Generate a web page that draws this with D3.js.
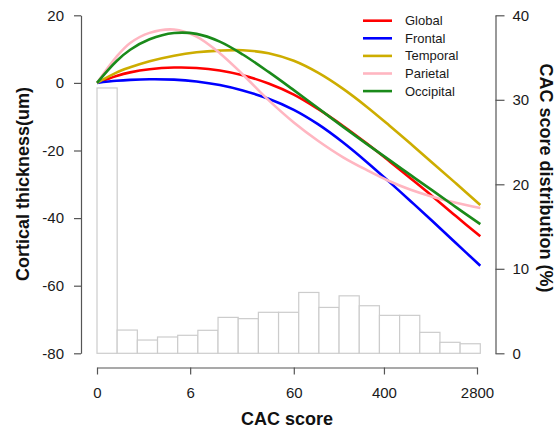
<!DOCTYPE html>
<html>
<head>
    <meta charset="utf-8">
    <title>Cortical thickness vs CAC score</title>
    <script src="https://d3js.org/d3.v7.min.js"></script>
    <style>
        body { margin: 0; background: #fff; }
        svg { display: block; font-family: "Liberation Sans", Arial, sans-serif; }
        .axis path, .axis line { stroke: #555; stroke-width: 1.2; }
        .axis text { font-size: 15px; fill: #1a1a1a; font-family: "Liberation Sans", Arial, sans-serif; }
        .title { font-size: 18px; font-weight: bold; fill: #111; }
        .legend text { font-size: 13px; fill: #1a1a1a; }
    </style>
</head>
<body>
<div id="chart"></div>
<script>
    // CAC score sample points (x) and fitted thickness change (um)
    const cacScore = [0, 0.5, 1, 2, 4, 7, 12, 20, 35, 60, 100, 170, 280, 450, 700, 1100, 1800, 3000];
    const globalVals    = [0, 2.04, 3.12, 4.05, 4.54, 4.43, 3.68, 2.26, -0.19, -3.47, -7.7, -12.74, -17.95, -23.22, -28.28, -33.5, -39.4, -45.4];
    const frontalVals   = [0, 0.62, 0.9, 1.09, 0.97, 0.41, -0.64, -2.25, -4.7, -7.98, -12.22, -17.64, -23.45, -29.35, -35.0, -40.88, -47.37, -54.1];
    const temporalVals  = [0, 3.05, 4.6, 6.4, 8.05, 9.05, 9.55, 9.65, 8.8, 6.53, 3.02, -1.77, -7.1, -12.66, -18.0, -23.6, -29.7, -36.1];
    const parietalVals  = [0, 7.7, 11.8, 14.8, 15.8, 13.7, 8.8, 2.5, -5.1, -11.7, -17.1, -22.0, -25.8, -29.09, -31.62, -33.67, -35.44, -37.03];
    const occipitalVals = [0, 6.4, 9.8, 12.9, 14.75, 14.5, 12.2, 8.4, 3.25, -2.15, -7.45, -13.0, -18.1, -22.85, -27.3, -31.8, -36.75, -41.8];

    const seriesNames = ['Global', 'Frontal', 'Temporal', 'Parietal', 'Occipital'];
    const seriesColors = ['#ff0000', '#0000ff', '#cdad00', '#ffb6c1', '#1a8a1a'];
    const seriesVals = [globalVals, frontalVals, temporalVals, parietalVals, occipitalVals];

    // CAC score distribution (%), equal bins on log(CAC+1)
    const histPct = [31.4, 2.75, 1.57, 1.93, 2.13, 2.72, 4.25, 4.1, 4.85, 4.85, 7.2, 5.43, 6.8, 5.63, 4.49, 4.49, 2.48, 1.3, 1.13];
    const cacMax = 3000;

    const xTicks = [0, 6, 60, 400, 2800];
    const yLeftTicks = [20, 0, -20, -40, -60, -80];
    const yRightTicks = [0, 10, 20, 30, 40];

    const width = 556;
    const height = 431;

    const svg = d3.select('#chart')
        .append('svg')
        .attr('width', width)
        .attr('height', height);

    const x = d3.scaleSymlog().constant(1)
        .domain([0, 2800])
        .range([97, 477]);

    const yLeft = d3.scaleLinear()
        .domain([-80, 20])
        .range([353.3, 15.3]);

    const yRight = d3.scaleLinear()
        .domain([0, 40])
        .range([353.3, 15.3]);

    const xBin = d3.scaleLinear()
        .domain([0, histPct.length])
        .range([x(0), x(cacMax)]);

    // histogram
    svg.append('g')
        .selectAll('rect')
        .data(histPct)
        .enter()
        .append('rect')
        .attr('x', (d, i) => xBin(i))
        .attr('y', d => yRight(d))
        .attr('width', xBin(1) - xBin(0))
        .attr('height', d => yRight(0) - yRight(d))
        .attr('fill', '#fff')
        .attr('stroke', '#cccccc')
        .attr('stroke-width', 1.2);

    // curves
    const line = d3.line()
        .x((d, i) => x(cacScore[i]))
        .y(d => yLeft(d))
        .curve(d3.curveCatmullRom.alpha(0.5));

    svg.append('g')
        .selectAll('path')
        .data(seriesVals)
        .enter()
        .append('path')
        .attr('d', d => line(d))
        .attr('fill', 'none')
        .attr('stroke', (d, i) => seriesColors[i])
        .attr('stroke-width', 2.6);

    // axes (plain hyphen for negatives, like the original)
    const plain = d => String(d);

    svg.append('g')
        .attr('class', 'axis')
        .attr('transform', 'translate(0,367.5)')
        .call(d3.axisBottom(x).tickValues(xTicks).tickFormat(plain)
            .tickSize(7).tickSizeOuter(0).tickPadding(13));

    svg.append('g')
        .attr('class', 'axis')
        .attr('transform', 'translate(81,0)')
        .call(d3.axisLeft(yLeft).tickValues(yLeftTicks).tickFormat(plain)
            .tickSize(7).tickSizeOuter(0).tickPadding(10));

    svg.append('g')
        .attr('class', 'axis')
        .attr('transform', 'translate(495.5,0)')
        .call(d3.axisRight(yRight).tickValues(yRightTicks).tickFormat(plain)
            .tickSize(9).tickSizeOuter(0).tickPadding(8));

    // axis titles
    svg.append('text')
        .attr('class', 'title')
        .attr('x', 287)
        .attr('y', 425)
        .attr('text-anchor', 'middle')
        .text('CAC score');

    svg.append('text')
        .attr('class', 'title')
        .attr('transform', 'translate(29,184) rotate(-90)')
        .attr('text-anchor', 'middle')
        .text('Cortical thickness(um)');

    svg.append('text')
        .attr('class', 'title')
        .attr('transform', 'translate(540,178) rotate(90)')
        .attr('text-anchor', 'middle')
        .text('CAC score distribution (%)');

    // legend
    const legend = svg.append('g')
        .attr('class', 'legend')
        .selectAll('g')
        .data(seriesNames)
        .enter()
        .append('g')
        .attr('transform', (d, i) => `translate(0,${20.7 + i * 17.6})`);

    legend.append('line')
        .attr('x1', 363)
        .attr('x2', 392)
        .attr('stroke', (d, i) => seriesColors[i])
        .attr('stroke-width', 2.6);

    legend.append('text')
        .attr('x', 405)
        .attr('dy', '0.35em')
        .text(d => d);
</script>
</body>
</html>
